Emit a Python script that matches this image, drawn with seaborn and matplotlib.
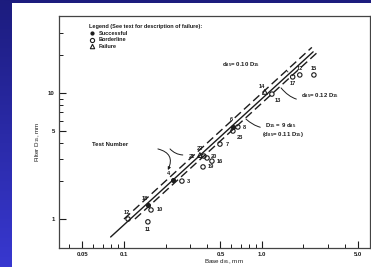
import matplotlib
matplotlib.use("Agg")
import numpy as np
import pandas as pd
import seaborn as sns
import matplotlib.pyplot as plt
from matplotlib.patches import Rectangle
from matplotlib.lines import Line2D
from matplotlib.ticker import FixedLocator, NullFormatter

# ---------------------
#   data
# ---------------------
tests = ["12", "11", "18", "10", "4", "3", "22", "21", "20", "16",
         "19", "7", "6", "8", "23", "14", "13", "17", "12", "15"]
d85 = [0.107, 0.149, 0.149, 0.157, 0.226, 0.263, 0.355, 0.38, 0.40, 0.434,
       0.374, 0.496, 0.616, 0.669, 0.616, 1.05, 1.18, 1.67, 1.88, 2.38]
D15 = [1.0, 0.95, 1.29, 1.18, 2.04, 2.0, 3.22, 3.16, 3.05, 2.88,
       2.59, 3.93, 5.37, 5.37, 4.99, 10.2, 9.8, 13.4, 13.9, 13.9]
result = ["Borderline", "Borderline", "Successful", "Borderline", "Successful",
          "Borderline", "Failure", "Borderline", "Borderline", "Borderline",
          "Borderline", "Borderline", "Successful", "Borderline", "Borderline",
          "Failure", "Borderline", "Borderline", "Borderline", "Borderline"]
# where each test number sits relative to its point (points)
label_offsets = [(-1, 4.5), (0, -5.5), (-2, 5), (6, 0), (-3, 4.5), (5, 0),
                 (0, 4.5), (-9, 0), (5, 1), (6, 0), (6, 0), (5, 0), (-1, 5.5),
                 (5, 0), (5, -4.5), (-2, 4), (4, -4.5), (0, -5), (0, 4.5), (0, 4.5)]

# criterion lines (end points)
line_name = ["d85=0.10 D15", "d85=0.10 D15", "D15=9 d85", "D15=9 d85",
             "d85=0.12 D15", "d85=0.12 D15"]
line_d85 = [0.10, 2.30, 0.08, 2.35, 0.12, 2.50]
line_D15 = [1.0, 23.0, 0.72, 21.2, 1.0, 20.8]

x_ticks = [0.05, 0.1, 0.5, 1.0, 5.0]
x_ticklabels = ["0.05", "0.1", "0.5", "1.0", "5.0"]
y_ticks = [1, 5, 10]
y_ticklabels = ["1", "5", "10"]

ink = "#1c1c1c"

sns.set_style("ticks")
plt.rcParams["font.family"] = ["Liberation Sans", "DejaVu Sans"]
plt.rcParams["font.weight"] = "bold"
plt.rcParams["mathtext.default"] = "regular"

fig = plt.figure(figsize=(3.71, 2.67), dpi=100)

# blue slide background + white scanned page
bg = fig.add_axes([0, 0, 1, 1], zorder=0)
grad = np.linspace(0, 1, 256).reshape(-1, 1)
cmap = matplotlib.colors.LinearSegmentedColormap.from_list("slide", ["#3838d0", "#1c1c7e"])
bg.imshow(grad, aspect="auto", cmap=cmap, extent=[0, 1, 0, 1], origin="lower", zorder=0)
bg.add_patch(Rectangle((12 / 371, 0), 1, 1 - 3 / 267, color="white", lw=0, zorder=1))
bg.set_xlim(0, 1)
bg.set_ylim(0, 1)
bg.axis("off")

ax = fig.add_axes([59 / 371, 19 / 267, 311 / 371, 232 / 267], zorder=1)
ax.set_facecolor("white")

lines_df = pd.DataFrame({"d85": line_d85, "D15": line_D15, "line": line_name})
sns.lineplot(data=lines_df, x="d85", y="D15", style="line", units="line",
             estimator=None, sort=False, color=ink, linewidth=1.0,
             dashes={"d85=0.10 D15": (6, 3), "D15=9 d85": "", "d85=0.12 D15": (6, 3)},
             legend=False, ax=ax)

pts = pd.DataFrame({"test": tests, "d85": d85, "D15": D15, "result": result})
styles = {"Successful": dict(marker="o", s=8, facecolor=ink),
          "Borderline": dict(marker="o", s=10, facecolor="none"),
          "Failure": dict(marker="^", s=12, facecolor="none")}
for res, st in styles.items():
    sub = pts[pts["result"] == res]
    sns.scatterplot(data=sub, x="d85", y="D15", marker=st["marker"], s=st["s"],
                    facecolor=st["facecolor"], edgecolor=ink, linewidth=0.8, ax=ax)

for t, x, y, off in zip(tests, d85, D15, label_offsets):
    ax.annotate(t, (x, y), xytext=off, textcoords="offset points",
                ha="center", va="center", fontsize=4.1, color=ink)

ax.set_xscale("log")
ax.set_yscale("log")
ax.set_xlim(0.0338, 6.07)
ax.set_ylim(0.589, 40.8)

ax.xaxis.set_major_locator(FixedLocator(x_ticks))
ax.set_xticklabels(x_ticklabels)
ax.yaxis.set_major_locator(FixedLocator(y_ticks))
ax.set_yticklabels(y_ticklabels)
ax.xaxis.set_minor_locator(FixedLocator([0.04, 0.06, 0.07, 0.08, 0.09, 0.2, 0.3, 0.4,
                                         0.6, 0.7, 0.8, 0.9, 2, 3, 4]))
ax.yaxis.set_minor_locator(FixedLocator([2, 3, 4, 6, 7, 8, 9, 20, 30]))
ax.xaxis.set_minor_formatter(NullFormatter())
ax.yaxis.set_minor_formatter(NullFormatter())
ax.tick_params(which="major", direction="in", length=5, width=0.8, color=ink,
               labelsize=4.3, labelcolor=ink, pad=3)
ax.tick_params(which="minor", direction="in", length=3, width=0.7, color=ink)
for sp in ax.spines.values():
    sp.set_color("#444444")
    sp.set_linewidth(0.9)

ax.set_xlabel("Base d$_{85}$, mm", fontsize=4.5, color=ink)
ax.set_ylabel("Filter D$_{15}$, mm", fontsize=4.5, color=ink)
ax.xaxis.set_label_coords(0.53, -0.04)
ax.yaxis.set_label_coords(-0.055, 0.46)

# legend block
handles = [Line2D([], [], ls="", marker="o", ms=2, mfc=ink, mec=ink),
           Line2D([], [], ls="", marker="o", ms=3, mfc="none", mec=ink, mew=0.8),
           Line2D([], [], ls="", marker="^", ms=3.2, mfc="none", mec=ink, mew=0.8)]
leg = ax.legend(handles, ["Successful", "Borderline", "Failure"],
                title="Legend (See text for description of failure):",
                loc="upper left", bbox_to_anchor=(0.095, 0.965), frameon=False,
                fontsize=4.0, title_fontsize=4.0, alignment="left",
                handlelength=1.2, handletextpad=0.6, labelspacing=0.3,
                borderaxespad=0, borderpad=0)
leg.get_title().set_color(ink)
for txt in leg.get_texts():
    txt.set_color(ink)

# callouts (axes fraction)
kw = dict(xycoords="axes fraction", textcoords="axes fraction", fontsize=4.3, color=ink)
ax.annotate("d$_{85}$= 0.10 D$_{15}$", xy=(0.736, 0.759), xytext=(0.524, 0.789),
            va="center", arrowprops=dict(arrowstyle="-", color=ink, lw=0.7,
                                         connectionstyle="arc3,rad=-0.3",
                                         shrinkA=19, shrinkB=0), **kw)
ax.annotate("d$_{85}$= 0.12 D$_{15}$", xy=(0.714, 0.690), xytext=(0.778, 0.655),
            va="center", arrowprops=dict(arrowstyle="-", color=ink, lw=0.7,
                                         connectionstyle="arc3,rad=-0.4",
                                         shrinkA=1, shrinkB=0), **kw)
ax.annotate("D$_{15}$ = 9 d$_{85}$", xy=(0.601, 0.556), xytext=(0.662, 0.526),
            va="center", arrowprops=dict(arrowstyle="-", color=ink, lw=0.7,
                                         connectionstyle="arc3,rad=-0.3",
                                         shrinkA=1, shrinkB=0), **kw)
ax.annotate("(d$_{85}$= 0.11 D$_{15}$)", xy=(0.653, 0.491), va="center", **kw)
ax.annotate("Test Number", xy=(0.106, 0.448), va="center", **kw)
ax.annotate("", xy=(0.350, 0.336), xytext=(0.318, 0.427), xycoords="axes fraction",
            arrowprops=dict(arrowstyle="-|>", color=ink, lw=0.7, mutation_scale=4,
                            connectionstyle="arc3,rad=-0.6", shrinkA=0, shrinkB=0))
ax.annotate("", xy=(0.398, 0.401), xytext=(0.357, 0.427), xycoords="axes fraction",
            arrowprops=dict(arrowstyle="-", color=ink, lw=0.7,
                            connectionstyle="arc3,rad=0.2", shrinkA=0, shrinkB=0))

fig.savefig("out.png", dpi=100)
